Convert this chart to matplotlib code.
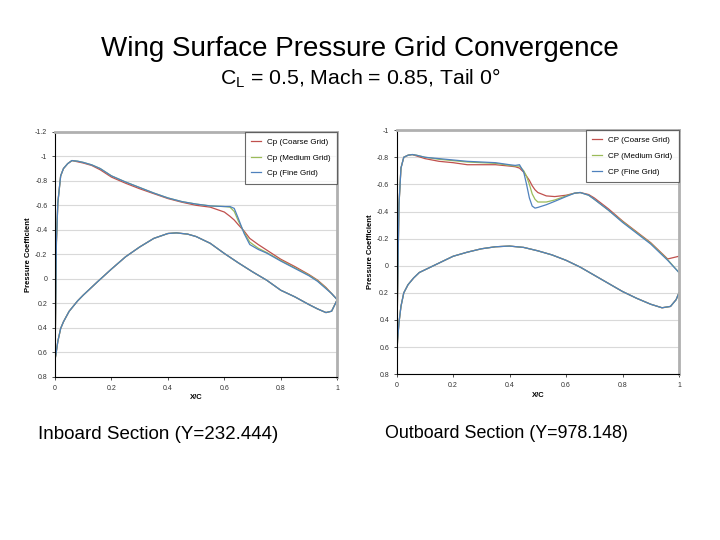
import matplotlib.pyplot as plt

plt.rcParams['font.family'] = ['Liberation Sans', 'DejaVu Sans']
plt.rcParams['mathtext.fontset'] = 'custom'
plt.rcParams['mathtext.rm'] = 'Liberation Sans'

# ---- inboard section ----
in_x_up = [0, 0.002, 0.005, 0.01, 0.02, 0.03, 0.045, 0.06, 0.08, 0.1, 0.13, 0.16, 0.2, 0.25,
           0.3, 0.35, 0.4, 0.45, 0.5, 0.55, 0.6, 0.62, 0.635, 0.65, 0.67, 0.69, 0.72, 0.75,
           0.8, 0.85, 0.9, 0.93, 0.96, 0.98, 1.0]
in_up_fine = [0.66, 0.30, -0.30, -0.62, -0.84, -0.90, -0.94, -0.965, -0.96, -0.95, -0.93, -0.90,
              -0.84, -0.79, -0.745, -0.70, -0.66, -0.63, -0.61, -0.595, -0.59, -0.59, -0.575,
              -0.49, -0.37, -0.28, -0.24, -0.21, -0.145, -0.085, -0.025, 0.02, 0.08, 0.12, 0.17]
in_up_medium = [0.66, 0.30, -0.30, -0.62, -0.84, -0.90, -0.94, -0.965, -0.96, -0.95, -0.93, -0.90,
                -0.84, -0.79, -0.745, -0.70, -0.66, -0.63, -0.61, -0.595, -0.59, -0.585, -0.55,
                -0.47, -0.38, -0.30, -0.25, -0.215, -0.15, -0.09, -0.03, 0.015, 0.075, 0.12, 0.17]
in_up_coarse = [0.66, 0.30, -0.30, -0.62, -0.84, -0.90, -0.94, -0.965, -0.955, -0.945, -0.925, -0.89,
                -0.83, -0.78, -0.735, -0.695, -0.655, -0.625, -0.60, -0.585, -0.545, -0.51, -0.48,
                -0.44, -0.39, -0.33, -0.28, -0.235, -0.16, -0.10, -0.035, 0.01, 0.07, 0.12, 0.17]
in_x_lo = [0, 0.003, 0.01, 0.02, 0.03, 0.05, 0.08, 0.1, 0.15, 0.2, 0.25, 0.3, 0.35, 0.4, 0.43,
           0.47, 0.5, 0.55, 0.6, 0.65, 0.7, 0.75, 0.8, 0.85, 0.9, 0.93, 0.96, 0.98, 1.0]
in_lo = [0.66, 0.62, 0.51, 0.405, 0.35, 0.265, 0.18, 0.133, 0.025, -0.08, -0.18, -0.26, -0.33,
         -0.37, -0.375, -0.365, -0.345, -0.29, -0.207, -0.13, -0.057, 0.011, 0.093, 0.147, 0.21,
         0.245, 0.275, 0.264, 0.17]

# ---- outboard section ----
out_x_up = [0, 0.003, 0.008, 0.015, 0.025, 0.04, 0.055, 0.07, 0.1, 0.15, 0.2, 0.25, 0.3, 0.35,
            0.4, 0.42, 0.435, 0.45, 0.46, 0.47, 0.48, 0.49, 0.5, 0.53, 0.56, 0.6, 0.63, 0.65,
            0.68, 0.7, 0.75, 0.8, 0.85, 0.9, 0.93, 0.96, 1.0]
out_up_fine = [0.68, 0.2, -0.45, -0.72, -0.80, -0.815, -0.82, -0.815, -0.80, -0.79, -0.78, -0.77,
               -0.765, -0.76, -0.745, -0.74, -0.745, -0.69, -0.60, -0.50, -0.44, -0.425, -0.43,
               -0.45, -0.475, -0.51, -0.535, -0.54, -0.52, -0.49, -0.41, -0.32, -0.24, -0.16,
               -0.10, -0.04, 0.05]
out_up_medium = [0.68, 0.2, -0.45, -0.72, -0.80, -0.815, -0.82, -0.815, -0.80, -0.785, -0.775, -0.765,
                 -0.76, -0.755, -0.74, -0.735, -0.735, -0.70, -0.66, -0.60, -0.53, -0.49, -0.47,
                 -0.47, -0.485, -0.515, -0.535, -0.54, -0.52, -0.49, -0.41, -0.325, -0.245, -0.165,
                 -0.105, -0.045, 0.05]
out_up_coarse = [0.68, 0.2, -0.45, -0.72, -0.80, -0.815, -0.82, -0.81, -0.79, -0.77, -0.76, -0.745,
                 -0.745, -0.745, -0.735, -0.73, -0.72, -0.69, -0.66, -0.63, -0.59, -0.56, -0.54,
                 -0.515, -0.51, -0.52, -0.535, -0.54, -0.525, -0.50, -0.42, -0.33, -0.25, -0.17,
                 -0.11, -0.05, -0.07]
out_x_lo = [0, 0.003, 0.008, 0.015, 0.025, 0.04, 0.06, 0.08, 0.1, 0.15, 0.2, 0.25, 0.3, 0.35,
            0.4, 0.45, 0.5, 0.55, 0.6, 0.65, 0.7, 0.75, 0.8, 0.85, 0.9, 0.94, 0.97, 0.99, 1.0]
out_lo = [0.68, 0.55, 0.42, 0.3, 0.2, 0.14, 0.09, 0.05, 0.03, -0.02, -0.07, -0.1, -0.125, -0.14,
          -0.145, -0.135, -0.11, -0.08, -0.04, 0.01, 0.07, 0.13, 0.19, 0.24, 0.284, 0.31, 0.30,
          0.25, 0.2]

in_yticks = [-1.2, -1, -0.8, -0.6, -0.4, -0.2, 0, 0.2, 0.4, 0.6, 0.8]
out_yticks = [-1, -0.8, -0.6, -0.4, -0.2, 0, 0.2, 0.4, 0.6, 0.8]
xticks = [0, 0.2, 0.4, 0.6, 0.8, 1]

red = '#c0504d'
green = '#9bbb59'
blue = '#4f81bd'


def fmt(v):
    return '0' if v == 0 else ('%g' % v)


def draw(ax, x_up, ups, x_lo, lo, yticks, prefix):
    names = ['Coarse Grid', 'Medium Grid', 'Fine Grid']
    cols = [red, green, blue]
    for cp, c, n in zip(ups, cols, names):
        ax.plot(x_up, cp, color=c, lw=0.9, label=prefix + ' (' + n + ')')
        ax.plot(x_lo, lo, color=c, lw=0.9)
    ax.set_xlim(0, 1)
    ax.set_ylim(yticks[-1], yticks[0])
    ax.set_yticks(yticks)
    ax.set_yticklabels([fmt(v) for v in yticks])
    ax.set_xticks(xticks)
    ax.set_xticklabels([fmt(v) for v in xticks])
    ax.grid(axis='y', color='#d9d9d9', lw=0.8)
    ax.set_axisbelow(True)
    ax.tick_params(labelsize=5, colors='#333333', length=2, width=0.6)
    for s in ['top', 'right']:
        ax.spines[s].set_color('#b0b0b0')
        ax.spines[s].set_linewidth(2)
    for s in ['left', 'bottom']:
        ax.spines[s].set_color('black')
        ax.spines[s].set_linewidth(0.8)
    ax.set_xlabel('X/C', fontsize=5.5, fontweight='bold', labelpad=2)
    ax.set_ylabel('Pressure Coefficient', fontsize=5.5, fontweight='bold', labelpad=2)
    leg = ax.legend(loc='upper right', fontsize=5.8, frameon=True, fancybox=False,
                    borderaxespad=0, handlelength=1.2, labelspacing=1.0, borderpad=0.8)
    leg.get_frame().set_edgecolor('#444444')
    leg.get_frame().set_linewidth(0.8)


fig = plt.figure(figsize=(7.2, 5.4), dpi=100)
ax1 = fig.add_axes([0.0764, 0.302, 0.392, 0.454])
ax2 = fig.add_axes([0.551, 0.307, 0.392, 0.452])

draw(ax1, in_x_up, [in_up_coarse, in_up_medium, in_up_fine], in_x_lo, in_lo, in_yticks, 'Cp')
draw(ax2, out_x_up, [out_up_coarse, out_up_medium, out_up_fine], out_x_lo, out_lo, out_yticks, 'CP')

fig.text(0.5, 0.910, 'Wing Surface Pressure Grid Convergence', ha='center', va='center', fontsize=20)
fig.text(0.5, 0.855, r'C$_\mathrm{L}$ = 0.5, Mach = 0.85, Tail 0°', ha='center', va='center', fontsize=15.3)
fig.text(0.053, 0.195, 'Inboard Section (Y=232.444)', ha='left', va='center', fontsize=13.5)
fig.text(0.535, 0.198, 'Outboard Section (Y=978.148)', ha='left', va='center', fontsize=12.9)

fig.savefig('out.png', dpi=100)
